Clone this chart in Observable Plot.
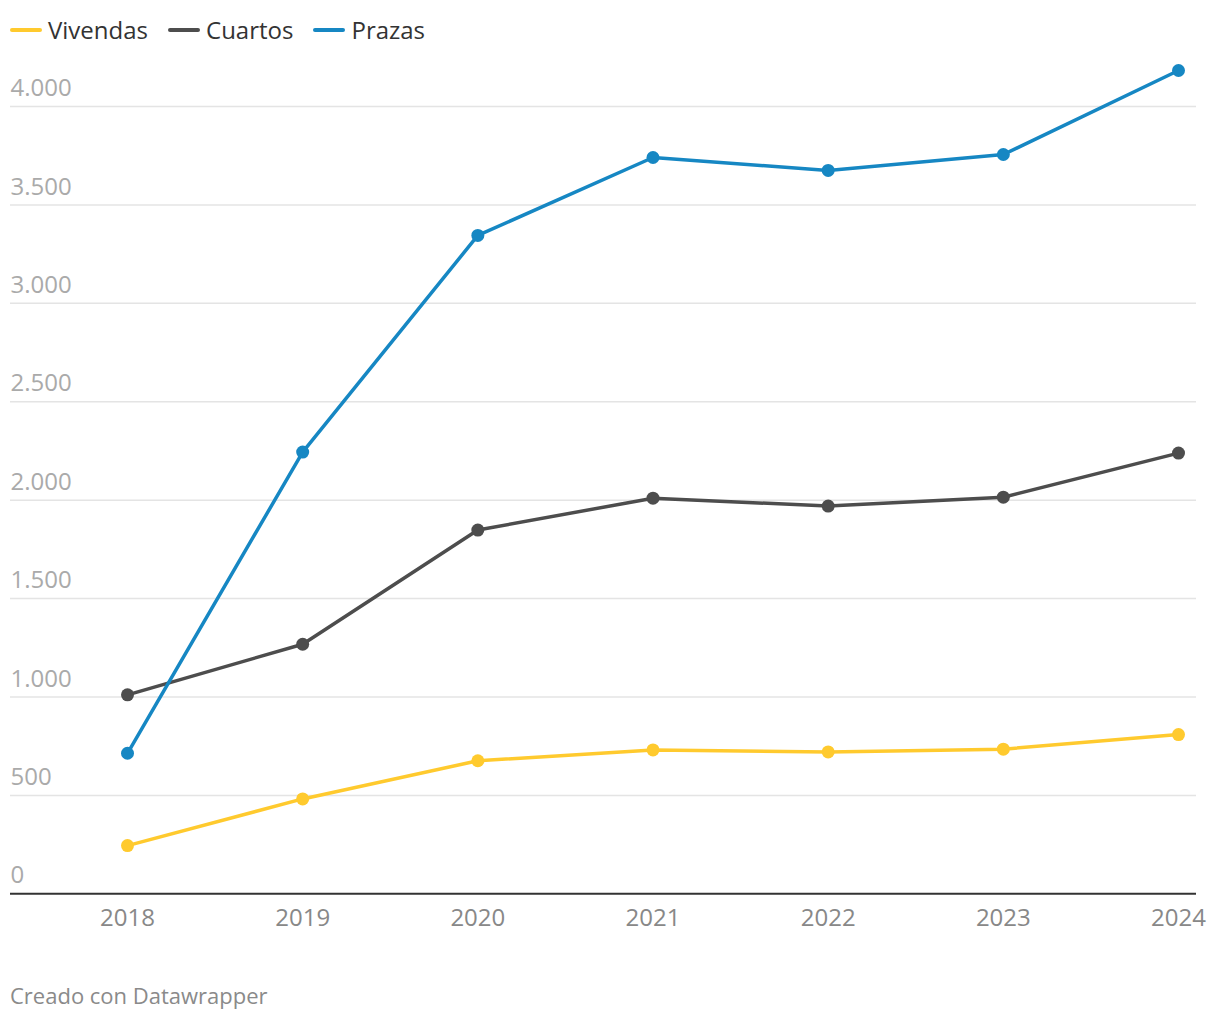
<!DOCTYPE html>
<html>
<head>
<meta charset="utf-8">
<script src="https://cdn.jsdelivr.net/npm/d3@7"></script>
<script src="https://cdn.jsdelivr.net/npm/@observablehq/plot@0.6"></script>
<style>
  html, body { margin: 0; padding: 0; background: #fff; }
  body { width: 1220px; height: 1020px; position: relative; font-family: "Open Sans", sans-serif; overflow: hidden; }
  #legend { position: absolute; left: 10px; top: 13px; display: flex; gap: 20px; font-size: 24px; color: #333; line-height: 34px; }
  .item { display: flex; align-items: center; }
  .sw { width: 32px; height: 4px; border-radius: 2px; margin-right: 6px; }
  #chart { position: absolute; left: 0; top: 60px; }
  #caption { position: absolute; left: 10px; top: 980px; font-size: 22px; color: #8a8a8a; }
</style>
</head>
<body>
<div id="legend"></div>
<div id="chart"></div>
<div id="caption">Creado con Datawrapper</div>
<script>
const years = [2018, 2019, 2020, 2021, 2022, 2023, 2024];
const vivendas = [245, 482, 676, 731, 721, 735, 809];
const cuartos = [1011, 1268, 1848, 2010, 1970, 2015, 2239];
const prazas = [714, 2244, 3345, 3741, 3675, 3756, 4183];
const seriesNames = ["Vivendas", "Cuartos", "Prazas"];
const seriesColors = ["#ffca2e", "#4d4d4d", "#1687c3"];
const yTicks = [0, 500, 1000, 1500, 2000, 2500, 3000, 3500, 4000];
const yTickLabels = ["0", "500", "1.000", "1.500", "2.000", "2.500", "3.000", "3.500", "4.000"];

const seriesValues = [vivendas, cuartos, prazas];
const rows = [];
seriesNames.forEach((name, i) => {
  years.forEach((yr, j) => rows.push({serie: name, year: yr, value: seriesValues[i][j]}));
});

// legend
const legend = document.getElementById("legend");
seriesNames.forEach((name, i) => {
  const it = document.createElement("div");
  it.className = "item";
  it.innerHTML = `<span class="sw" style="background:${seriesColors[i]}"></span><span>${name}</span>`;
  legend.appendChild(it);
});

const W = 1220, H = 900;
const chart = Plot.plot({
  width: W,
  height: H,
  marginLeft: 10,
  marginRight: 24,
  marginTop: 46,
  marginBottom: 66.7,
  style: { fontFamily: "Open Sans, sans-serif", background: "transparent", overflow: "visible" },
  x: { domain: [2018, 2024], range: [127, 1178], axis: null },
  y: { domain: [0, 4000], axis: null },
  color: { domain: seriesNames, range: seriesColors },
  marks: [
    Plot.ruleY(yTicks.slice(1), { stroke: "#e4e4e4", strokeWidth: 1.5 }),
    Plot.text(yTicks, {
      y: d => d,
      text: (d, i) => yTickLabels[i],
      frameAnchor: "left",
      textAnchor: "start",
      lineAnchor: "middle",
      dy: -18,
      fontSize: 24,
      fill: "#aaaaaa"
    }),
    Plot.ruleY([0], { stroke: "#333", strokeWidth: 2 }),
    Plot.text(years, {
      x: d => d,
      text: d => String(d),
      frameAnchor: "bottom",
      lineAnchor: "middle",
      dy: 25,
      fontSize: 24,
      fill: "#888888"
    }),
    Plot.line(rows, { x: "year", y: "value", z: "serie", stroke: "serie", strokeWidth: 3.5 }),
    Plot.dot(rows, { x: "year", y: "value", fill: "serie", r: 6.5, stroke: "none" })
  ]
});
document.getElementById("chart").appendChild(chart);
</script>
</body>
</html>
